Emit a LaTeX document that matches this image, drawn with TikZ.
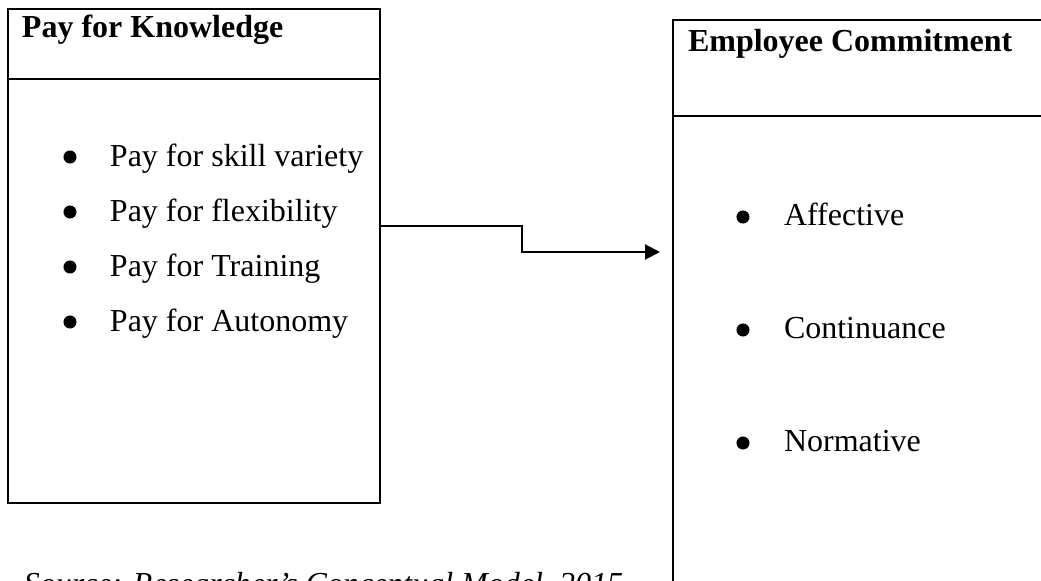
\documentclass[tikz,border=0pt]{standalone}
\usepackage{fontspec}
\setmainfont{Liberation Serif}
\usetikzlibrary{arrows.meta,calc}
\begin{document}
\begin{tikzpicture}[x=0.375pt,y=-0.375pt,
  every node/.style={font=\fontsize{12pt}{14pt}\selectfont, inner sep=0pt, outer sep=0pt},
  boxframe/.style={draw, line width=1.1pt, rectangle, inner sep=0pt},
  headtext/.style={anchor=base west, font=\fontsize{12pt}{14pt}\selectfont\bfseries},
  itemtext/.style={anchor=base west},
  dot/.style={circle, fill=black, minimum size=4.9pt, inner sep=0pt},
  conn/.style={line width=0.8pt, -{Triangle[length=5.6pt,width=5.6pt]}},
  divider/.style={line width=1.1pt}]
\useasboundingbox (0,0) rectangle (1041,581);
\clip (0,0) rectangle (1041,581);
% left box
\node[boxframe, minimum width=372*0.375pt, minimum height=494*0.375pt] (lbox) at (194,256) {};
\coordinate (ldivw) at (8,79);
\coordinate (ldive) at (380,79);
\draw[divider] (ldivw) -- (ldive);
\node[headtext] (lhead) at (22,38) {Pay for Knowledge};
\node[dot] (lb1) at (70,157) {};
\node[dot] (lb2) at (70,212) {};
\node[dot] (lb3) at (70,267) {};
\node[dot] (lb4) at (70,322) {};
\node[itemtext] (lt1) at (110,167) {Pay for skill variety};
\node[itemtext] (lt2) at (110,222) {Pay for flexibility};
\node[itemtext] (lt3) at (110,277) {Pay for Training};
\node[itemtext] (lt4) at (110,332) {Pay for Autonomy};
% right box
\node[boxframe, minimum width=380*0.375pt, minimum height=600*0.375pt] (rbox) at (863,320) {};
\coordinate (rdivw) at (673,116);
\coordinate (rdive) at (1060,116);
\draw[divider] (rdivw) -- (rdive);
\node[headtext] (rhead) at (688,52) {Employee Commitment};
\node[dot] (rb1) at (743,217) {};
\node[dot] (rb2) at (743,330) {};
\node[dot] (rb3) at (743,443) {};
\node[itemtext] (rt1) at (784,226) {Affective};
\node[itemtext] (rt2) at (784,339) {Continuance};
\node[itemtext] (rt3) at (784,452) {Normative};
% connector
\coordinate (cstart) at (lbox.east |- 0,226);
\coordinate (cbend) at (522,252);
\coordinate (cend) at (660,252);
\draw[conn] (cstart) -| (cbend) -- (cend);
% caption
\node[itemtext, font=\fontsize{12pt}{14pt}\selectfont\itshape] (cap) at (24,595) {Source: Researcher's Conceptual Model, 2015};
\end{tikzpicture}
\end{document}
